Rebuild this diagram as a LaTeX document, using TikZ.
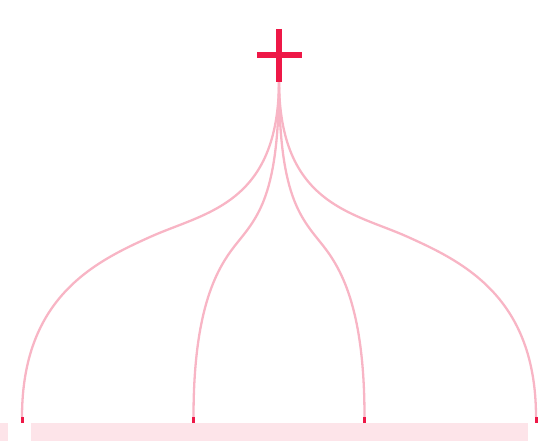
\documentclass[tikz,border=0pt]{standalone}
\definecolor{linkpink}{HTML}{F8B5C5}
\definecolor{crimson}{HTML}{EE1847}
\definecolor{barpink}{HTML}{FDE4E9}
\begin{document}
\begin{tikzpicture}[x=1pt,y=-1pt,
  link/.style={draw=linkpink,line width=2.3pt},
  plusbar/.style={draw=crimson,line width=6pt},
  tickmark/.style={draw=crimson,line width=3pt},
  barfill/.style={fill=barpink}]
\useasboundingbox (0,0) rectangle (552,441);
\fill[barfill] (0,423) rectangle (8,441);
\fill[barfill] (31,423) rectangle (528,441);
\coordinate (root) at (279,80);
\coordinate (a) at (22,417);
\coordinate (b) at (193.5,417);
\coordinate (c) at (364.5,417);
\coordinate (d) at (536,417);
% outer left
\draw[link] (root) .. controls (279,205) and (204.7,212.3) .. (150,237)
  .. controls (95.3,261.7) and (22,297) .. (a);
% inner left
\draw[link] (root) .. controls (279,195) and (258.1,216.7) .. (236.25,244)
  .. controls (217.5,267.4) and (193.5,307) .. (b);
% inner right
\draw[link] (root) .. controls (279,195) and (299.9,216.7) .. (321.75,244)
  .. controls (340.5,267.4) and (364.5,307) .. (c);
% outer right
\draw[link] (root) .. controls (279,205) and (353.3,212.3) .. (408,237)
  .. controls (462.7,261.7) and (536,297) .. (d);
\foreach \n in {a,b,c,d}{
  \draw[tickmark] (\n) -- ++(0,6);
}
\draw[plusbar] (279,29) -- (279,82);
\draw[plusbar] (257,55) -- (302,55);
\end{tikzpicture}
\end{document}
